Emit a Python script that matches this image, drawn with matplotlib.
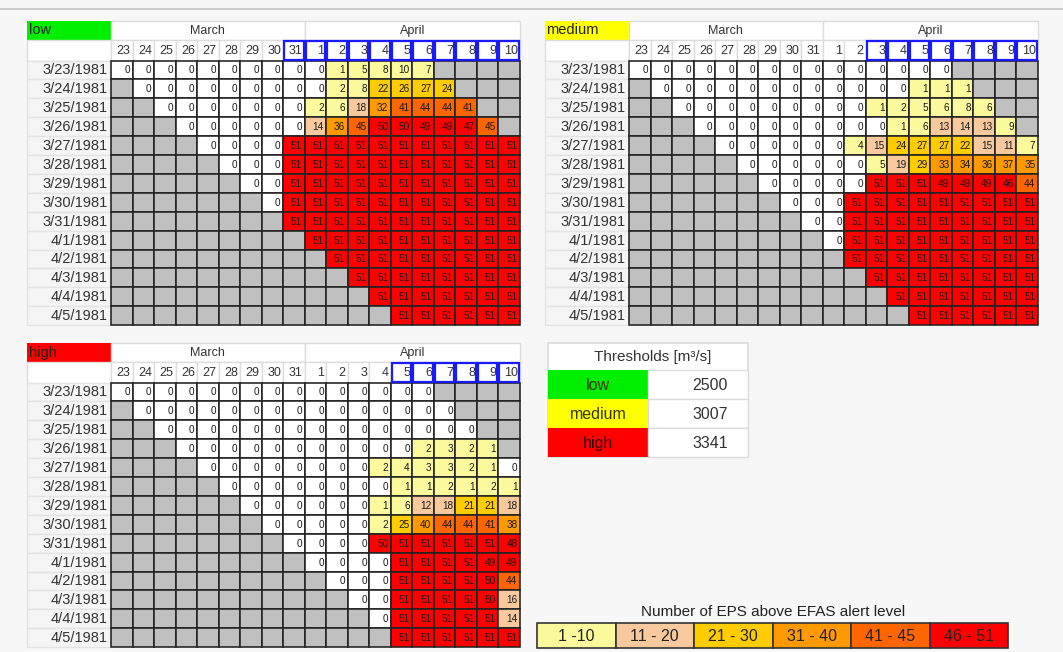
import matplotlib
matplotlib.use("Agg")
import matplotlib.pyplot as plt
from matplotlib.patches import Rectangle

plt.rcParams["font.family"] = ["Liberation Sans", "DejaVu Sans"]

# ---- data -------------------------------------------------------------
days = ["23", "24", "25", "26", "27", "28", "29", "30", "31",
        "1", "2", "3", "4", "5", "6", "7", "8", "9", "10"]
forecast_dates = ["3/23/1981", "3/24/1981", "3/25/1981", "3/26/1981",
                  "3/27/1981", "3/28/1981", "3/29/1981", "3/30/1981",
                  "3/31/1981", "4/1/1981", "4/2/1981", "4/3/1981",
                  "4/4/1981", "4/5/1981"]

# Each forecast row starts on its own date (column index == row index)
low_counts = [
    [0, 0, 0, 0, 0, 0, 0, 0, 0, 0, 1, 5, 8, 10, 7],
    [0, 0, 0, 0, 0, 0, 0, 0, 0, 2, 8, 22, 26, 27, 24],
    [0, 0, 0, 0, 0, 0, 0, 2, 6, 18, 32, 41, 44, 44, 41],
    [0, 0, 0, 0, 0, 0, 14, 36, 45, 50, 50, 49, 49, 47, 45],
    [0, 0, 0, 0, 51, 51, 51, 51, 51, 51, 51, 51, 51, 51, 51],
    [0, 0, 0, 51, 51, 51, 51, 51, 51, 51, 51, 51, 51, 51],
    [0, 0, 51, 51, 51, 51, 51, 51, 51, 51, 51, 51, 51],
    [0, 51, 51, 51, 51, 51, 51, 51, 51, 51, 51, 51],
    [51, 51, 51, 51, 51, 51, 51, 51, 51, 51, 51],
    [51, 51, 51, 51, 51, 51, 51, 51, 51, 51],
    [51, 51, 51, 51, 51, 51, 51, 51, 51],
    [51, 51, 51, 51, 51, 51, 51, 51],
    [51, 51, 51, 51, 51, 51, 51],
    [51, 51, 51, 51, 51, 51],
]
medium_counts = [
    [0, 0, 0, 0, 0, 0, 0, 0, 0, 0, 0, 0, 0, 0, 0],
    [0, 0, 0, 0, 0, 0, 0, 0, 0, 0, 0, 0, 1, 1, 1],
    [0, 0, 0, 0, 0, 0, 0, 0, 0, 1, 2, 5, 6, 8, 6],
    [0, 0, 0, 0, 0, 0, 0, 0, 0, 1, 6, 13, 14, 13, 9],
    [0, 0, 0, 0, 0, 0, 4, 15, 24, 27, 27, 22, 15, 11, 7],
    [0, 0, 0, 0, 0, 0, 5, 19, 29, 33, 34, 36, 37, 35],
    [0, 0, 0, 0, 0, 51, 51, 51, 49, 49, 49, 46, 44],
    [0, 0, 0, 51, 51, 51, 51, 51, 51, 51, 51, 51],
    [0, 0, 51, 51, 51, 51, 51, 51, 51, 51, 51],
    [0, 51, 51, 51, 51, 51, 51, 51, 51, 51],
    [51, 51, 51, 51, 51, 51, 51, 51, 51],
    [51, 51, 51, 51, 51, 51, 51, 51],
    [51, 51, 51, 51, 51, 51, 51],
    [51, 51, 51, 51, 51, 51],
]
high_counts = [
    [0, 0, 0, 0, 0, 0, 0, 0, 0, 0, 0, 0, 0, 0, 0],
    [0, 0, 0, 0, 0, 0, 0, 0, 0, 0, 0, 0, 0, 0, 0],
    [0, 0, 0, 0, 0, 0, 0, 0, 0, 0, 0, 0, 0, 0, 0],
    [0, 0, 0, 0, 0, 0, 0, 0, 0, 0, 0, 2, 3, 2, 1],
    [0, 0, 0, 0, 0, 0, 0, 0, 2, 4, 3, 3, 2, 1, 0],
    [0, 0, 0, 0, 0, 0, 0, 0, 1, 1, 2, 1, 2, 1],
    [0, 0, 0, 0, 0, 0, 1, 6, 12, 18, 21, 21, 18],
    [0, 0, 0, 0, 0, 2, 25, 40, 44, 44, 41, 38],
    [0, 0, 0, 0, 50, 51, 51, 51, 51, 51, 48],
    [0, 0, 0, 0, 51, 51, 51, 51, 49, 49],
    [0, 0, 0, 51, 51, 51, 51, 50, 44],
    [0, 0, 51, 51, 51, 51, 50, 16],
    [0, 51, 51, 51, 51, 51, 14],
    [51, 51, 51, 51, 51, 51],
]
# Days on which the discharge exceeds the threshold (boxed in the header)
low_alert_days = ["31", "1", "2", "3", "4", "5", "6", "7", "8", "9", "10"]
medium_alert_days = ["3", "4", "5", "6", "7", "8", "9", "10"]
high_alert_days = ["5", "6", "7", "8", "9", "10"]

threshold_names = ["low", "medium", "high"]
threshold_values = [2500, 3007, 3341]

class_labels = ["1 -10", "11 - 20", "21 - 30", "31 - 40", "41 - 45", "46 - 51"]
class_upper = [10, 20, 30, 40, 45, 51]
class_colors = ["#FAFA9C", "#F7C99C", "#FFCC00", "#FF9900", "#FF6600", "#FF0000"]

# ---- styling ----------------------------------------------------------
BG = "#F7F7F7"
BLANK = "#C0C0C0"
GRID = "#222222"
HEAD_EDGE = "#DCDCDC"
LEVEL_COLORS = {"low": "#00EE00", "medium": "#FFFF00", "high": "#FF0000"}

W, H = 1063, 652
fig = plt.figure(figsize=(W / 100, H / 100), dpi=100)
fig.patch.set_facecolor(BG)
ax = fig.add_axes([0, 0, 1, 1])
ax.set_xlim(0, W)
ax.set_ylim(H, 0)
ax.axis("off")
ax.set_facecolor(BG)

ax.plot([0, W], [9, 9], color="#C4C4C4", lw=1.2)


def cell_color(v):
    if v == 0:
        return "#FFFFFF"
    for upper, c in zip(class_upper, class_colors):
        if v <= upper:
            return c
    return class_colors[-1]


def draw_table(x_label, x_cols, y_top, col_w, row_h, name, counts, alert_days):
    label_w = x_cols - x_label
    month_h, day_h = 19, 20.5
    n_cols = len(days)

    # level name cell
    ax.add_patch(Rectangle((x_label, y_top), label_w, month_h,
                           fc=LEVEL_COLORS[name], ec="none", zorder=2))
    ax.text(x_label + 1.5, y_top + month_h / 2, name, ha="left", va="center",
            fontsize=10.5, color="#222222", zorder=5)

    # month header
    n_march = days.index("1")
    for start, stop, month in [(0, n_march, "March"), (n_march, n_cols, "April")]:
        ax.add_patch(Rectangle((x_cols + start * col_w, y_top), (stop - start) * col_w,
                               month_h, fc="#FFFFFF", ec=HEAD_EDGE, lw=1, zorder=2))
        ax.text(x_cols + (start + stop) / 2 * col_w, y_top + month_h / 2 + 0.5, month,
                ha="center", va="center", fontsize=9, color="#333333", zorder=5)

    # day header
    y_day = y_top + month_h
    ax.add_patch(Rectangle((x_label, y_day), label_w, day_h, fc="#FFFFFF",
                           ec=HEAD_EDGE, lw=1, zorder=2))
    for j, d in enumerate(days):
        x = x_cols + j * col_w
        ax.add_patch(Rectangle((x, y_day), col_w, day_h, fc="#FFFFFF",
                               ec=HEAD_EDGE, lw=1, zorder=2))
        ax.text(x + col_w - 2, y_day + day_h / 2 + 0.5, d, ha="right", va="center",
                fontsize=9, color="#333333", zorder=5)
        if d in alert_days:
            ax.add_patch(Rectangle((x + 1, y_day + 1), col_w - 2, day_h - 2, fc="none",
                                   ec="#1A1AFF", lw=1.6, zorder=6))

    # forecast rows
    y_data = y_day + day_h
    for i, date in enumerate(forecast_dates):
        y = y_data + i * row_h
        ax.add_patch(Rectangle((x_label, y), label_w, row_h, fc="#F5F5F5",
                               ec="#E4E4E4", lw=1, zorder=2))
        ax.text(x_cols - 3, y + row_h / 2 + 0.5, date, ha="right", va="center",
                fontsize=10.5, color="#333333", zorder=5)
        row = counts[i]
        for j in range(n_cols):
            x = x_cols + j * col_w
            k = j - i
            if 0 <= k < len(row):
                v = row[k]
                ax.add_patch(Rectangle((x, y), col_w, row_h, fc=cell_color(v),
                                       ec=GRID, lw=1.15, zorder=3))
                ax.text(x + col_w - 2.5, y + row_h / 2 + 0.5, str(v), ha="right",
                        va="center", fontsize=7.2, color="#1A1A1A", zorder=5)
            else:
                ax.add_patch(Rectangle((x, y), col_w, row_h, fc=BLANK,
                                       ec=GRID, lw=1.15, zorder=3))


COL_W = (520 - 111) / 19
ROW_H = 18.9
draw_table(27, 111, 21, COL_W, ROW_H, "low", low_counts, low_alert_days)
draw_table(545, 629, 21, (1038 - 629) / 19, ROW_H, "medium", medium_counts, medium_alert_days)
draw_table(27, 111, 343, COL_W, ROW_H, "high", high_counts, high_alert_days)

# ---- thresholds table -------------------------------------------------
tx, tw, cw = 548, 200, 100
ty, title_h, th = 343, 27, 29
ax.add_patch(Rectangle((tx, ty), tw, title_h + th * 3, fc="#FFFFFF", ec=HEAD_EDGE,
                       lw=1.2, zorder=2))
ax.text(tx + tw / 2 + 5, ty + title_h / 2 + 1, "Thresholds [m\u00b3/s]", ha="center",
        va="center", fontsize=11, color="#333333", zorder=5)
for i, (nm, val) in enumerate(zip(threshold_names, threshold_values)):
    y = ty + title_h + i * th
    ax.add_patch(Rectangle((tx, y), cw, th, fc=LEVEL_COLORS[nm], ec="none", zorder=3))
    ax.add_patch(Rectangle((tx + cw, y), tw - cw, th, fc="#FFFFFF", ec=HEAD_EDGE,
                           lw=1, zorder=3))
    ax.text(tx + cw / 2, y + th / 2 + 1, nm, ha="center", va="center", fontsize=11.5,
            color="#333300" if nm != "high" else "#330000", zorder=5)
    ax.text(tx + 180, y + th / 2 + 1, str(val), ha="right", va="center",
            fontsize=11.5, color="#333333", zorder=5)

# ---- class legend -----------------------------------------------------
lx0, lx1, ly, lh = 537, 1008, 623, 25
ax.text(773, 612, "Number of EPS above EFAS alert level", ha="center", va="center",
        fontsize=11, color="#222222", zorder=5)
bw = (lx1 - lx0) / len(class_labels)
for i, (lab, c) in enumerate(zip(class_labels, class_colors)):
    x = lx0 + i * bw
    ax.add_patch(Rectangle((x, ly), bw, lh, fc=c, ec="#333333", lw=1.2, zorder=3))
    ax.text(x + bw / 2, ly + lh / 2 + 1, lab, ha="center", va="center",
            fontsize=11.5, color="#222222", zorder=5)

fig.savefig("out.png", dpi=100, facecolor=BG)
